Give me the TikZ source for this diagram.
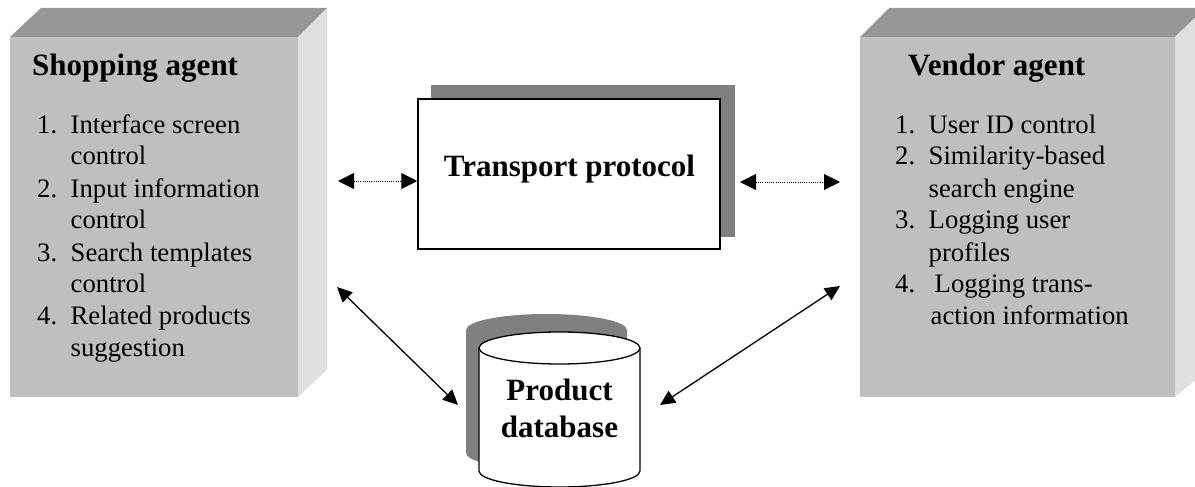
\documentclass[tikz,border=0pt]{standalone}
\usepackage{fontspec}
\setmainfont{Liberation Serif}
\usetikzlibrary{arrows.meta}
\newcommand\ttlfont{\fontsize{31}{37}\bfseries\selectfont}
\newcommand\itmfont{\fontsize{26.7}{32}\selectfont}
\newcommand\nb[1]{\makebox[33.5pt][l]{#1}}
\begin{document}
\begin{tikzpicture}[x=1pt,y=-1pt,
  frontface/.style={fill=black!25},
  topface/.style={fill=black!41},
  sideface/.style={fill=black!12},
  shadowfill/.style={fill=black!50},
  outline/.style={draw=black,line width=1.5pt},
  ttl/.style={inner sep=0pt,font=\ttlfont},
  itm/.style={inner sep=0pt,font=\itmfont},
  solidarrow/.style={line width=1.3pt,{Triangle[length=15pt,width=14pt]}-{Triangle[length=15pt,width=14pt]}},
  dotarrow/.style={line width=1pt,dash pattern=on 1pt off 1.2pt,{Triangle[length=16pt,width=16pt]}-{Triangle[length=16pt,width=16pt]}}]
\useasboundingbox (0,0) rectangle (1195,487);
\clip (0,0) rectangle (1195,487);
% ---- Shopping agent box
\fill[topface] (10,37) -- (41,8) -- (327,8) -- (298,37) -- cycle;
\fill[sideface] (298,37) -- (327,8) -- (327,370) -- (298,397) -- cycle;
\fill[frontface] (10,37) rectangle (298,397);
\node[ttl,anchor=base west] (shop) at (32,76) {Shopping agent};
\node[itm,anchor=base west] (shoplist) at (37,133) {\begin{tabular}[t]{@{}l@{}}
\nb{1.}Interface screen\\ \nb{}control\\
\nb{2.}Input information\\ \nb{}control\\
\nb{3.}Search templates\\ \nb{}control\\
\nb{4.}Related products\\ \nb{}suggestion\end{tabular}};
% ---- Vendor agent box
\fill[topface] (860,37) -- (889,8) -- (1205,8) -- (1175,37) -- cycle;
\fill[sideface] (1175,37) -- (1205,8) -- (1205,372) -- (1175,397) -- cycle;
\fill[frontface] (860,37) rectangle (1175,397);
\node[ttl,anchor=base west] (vendor) at (908,76) {Vendor agent};
\node[itm,anchor=base west] (vendlist) at (895,133) {\begin{tabular}[t]{@{}l@{}}
\nb{1.}User ID control\\
\nb{2.}Similarity-based\\ \nb{}search engine\\
\nb{3.}Logging user\\ \nb{}profiles\\
\nb{4.}\hspace{6pt}Logging trans-\\ \nb{}\hspace{2pt}action information\end{tabular}};
% ---- Transport protocol
\fill[shadowfill] (431,85) rectangle (735,237);
\node[outline,fill=white,minimum width=302pt,minimum height=150pt,inner sep=0pt] (tp) at (569,174) {};
\node[ttl,anchor=base] (tptext) at (569.5,176) {Transport protocol};
% ---- Product database (cylinder)
\fill[shadowfill,shift={(-13,-18)}] (479,348) -- (479,471) arc[start angle=180,end angle=0,x radius=80.5,y radius=16]
  -- (640,348) arc[start angle=0,end angle=-180,x radius=80.5,y radius=16] -- cycle;
\filldraw[fill=white,line width=1.3pt] (479,348) -- (479,471) arc[start angle=180,end angle=0,x radius=80.5,y radius=16]
  -- (640,348) arc[start angle=0,end angle=-180,x radius=80.5,y radius=16] -- cycle;
\draw[line width=1.3pt] (479,348) arc[start angle=180,end angle=0,x radius=80.5,y radius=16];
\node[ttl,anchor=base] (db) at (559.5,400) {\begin{tabular}[t]{@{}c@{}}Product\\database\end{tabular}};
% ---- connector end points
\coordinate (tpl) at (338,181);
\coordinate (tpr1) at (740,182);
\coordinate (tpr2) at (840,182);
\coordinate (shopend) at (337,287);
\coordinate (dbl) at (458,405);
\coordinate (dbr) at (660,405);
\coordinate (vendend) at (840,286);
% ---- connectors
\draw[dotarrow] (tpl) -- (tpl -| tp.west);
\draw[dotarrow] (tpr1) -- (tpr2);
\draw[solidarrow] (shopend) -- (dbl);
\draw[solidarrow] (dbr) -- (vendend);
\end{tikzpicture}
\end{document}
